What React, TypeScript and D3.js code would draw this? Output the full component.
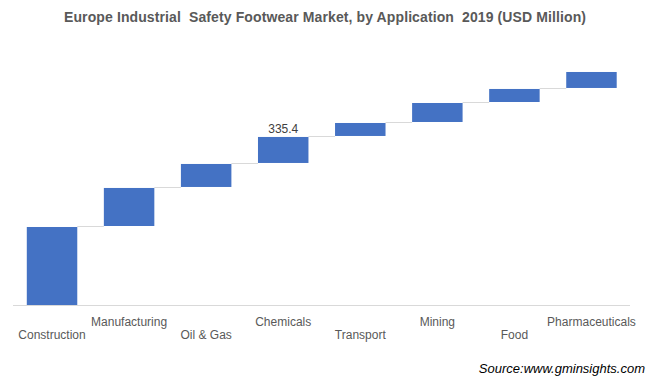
import React from "react";
import * as d3 from "d3";

const categories = [
  "Construction",
  "Manufacturing",
  "Oil & Gas",
  "Chemicals",
  "Transport",
  "Mining",
  "Food",
  "Pharmaceuticals",
];
const values = [155.7, 77.9, 47.9, 53.9, 27.9, 39.9, 28.0, 33.9];
const labelledCategory = "Chemicals";
const yTicks = [0, 500];

const W = 658;
const H = 382;

export default function App() {
  const x = d3
    .scaleBand<string>()
    .domain(categories)
    .range([13.5, 630])
    .paddingInner(0.345)
    .paddingOuter(0.1725);
  const y = d3.scaleLinear().domain([yTicks[0], yTicks[1]]).range([305, 54.5]);

  let acc = 0;
  const steps = values.map((v, i) => {
    const start = acc;
    acc += v;
    return { cat: categories[i], start, end: acc, v };
  });

  const font = "'Liberation Sans', Arial, sans-serif";

  return (
    <svg
      width={W}
      height={H}
      style={{ position: "absolute", left: 0, top: 0, background: "#fff" }}
    >
      <rect x={0} y={0} width={W} height={H} fill="#fff" />
      <text
        x={325}
        y={22}
        textAnchor="middle"
        fontFamily={font}
        fontWeight="bold"
        fontSize={14}
        fill="#595959"
        textLength={522}
        lengthAdjust="spacing"
        style={{ whiteSpace: "pre" }}
      >
        {"Europe Industrial  Safety Footwear Market, by Application  2019 (USD Million)"}
      </text>

      {/* connectors */}
      {steps.slice(0, -1).map((s, i) => {
        const x1 = (x(s.cat) as number) + x.bandwidth();
        const x2 = x(steps[i + 1].cat) as number;
        const yy = Math.round(y(s.end)) - 0.5;
        return (
          <line
            key={"c" + i}
            x1={x1}
            x2={x2}
            y1={yy}
            y2={yy}
            stroke="#d9d9d9"
            strokeWidth={1}
          />
        );
      })}

      {/* axis line */}
      <line x1={13} x2={630} y1={305.5} y2={305.5} stroke="#d9d9d9" strokeWidth={1} />

      {/* bars */}
      {steps.map((s) => (
        <rect
          key={s.cat}
          x={x(s.cat)}
          width={x.bandwidth()}
          y={y(s.end)}
          height={y(s.start) - y(s.end) - (s.start > 0 ? 1 : 0)}
          fill="#4472C4"
        />
      ))}

      {/* value label */}
      {steps
        .filter((s) => s.cat === labelledCategory)
        .map((s) => (
          <text
            key="lbl"
            x={(x(s.cat) as number) + x.bandwidth() / 2}
            y={y(s.end) - 4}
            textAnchor="middle"
            fontFamily={font}
            fontSize={12}
            fill="#404040"
          >
            {s.end.toFixed(1)}
          </text>
        ))}

      {/* category labels, staggered */}
      {categories.map((c, i) => (
        <text
          key={"t" + c}
          x={(x(c) as number) + x.bandwidth() / 2}
          y={i % 2 === 0 ? 339 : 326}
          textAnchor="middle"
          fontFamily={font}
          fontSize={12}
          fill="#595959"
        >
          {c}
        </text>
      ))}

      <text
        x={645}
        y={373}
        textAnchor="end"
        fontFamily={font}
        fontStyle="italic"
        fontSize={13}
        fill="#000"
      >
        Source:www.gminsights.com
      </text>
    </svg>
  );
}
